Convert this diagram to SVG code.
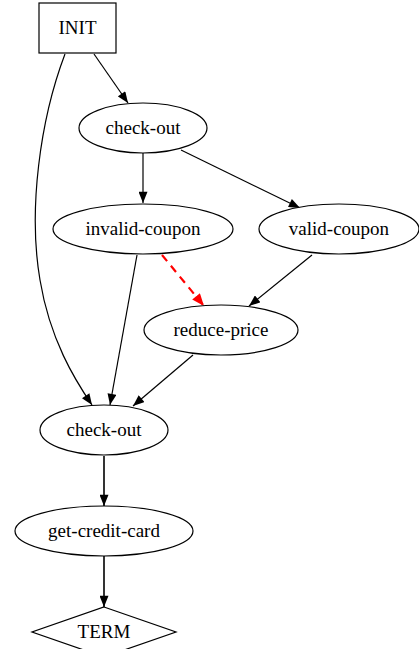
<svg xmlns="http://www.w3.org/2000/svg" width="419" height="649" viewBox="0 0 419 649">
<style>
.n{fill:#fff;stroke:#000;stroke-width:1.2}
.t{font-family:'Liberation Serif','DejaVu Serif','Times New Roman',Times,serif;font-size:19px;text-anchor:middle;fill:#000}
.e{fill:none;stroke:#000;stroke-width:1.2}
.e2{fill:none;stroke:#000;stroke-width:1.6}
.r{fill:none;stroke:#f00;stroke-width:2.2;stroke-dasharray:8,6}
</style>
<defs>
<marker id="a" viewBox="0 0 10 8" refX="10" refY="4" markerWidth="12" markerHeight="9" markerUnits="userSpaceOnUse" orient="auto"><path d="M0,0L10,4L0,8z" fill="#000"/></marker>
<marker id="ar" viewBox="0 0 10 8" refX="10" refY="4" markerWidth="13" markerHeight="10" markerUnits="userSpaceOnUse" orient="auto"><path d="M0,0L10,4L0,8z" fill="#f00"/></marker>
</defs>
<rect width="419" height="649" fill="#fff"/>
<g id="edges">
<path class="e" d="M94,54L128,103" marker-end="url(#a)"/>
<path class="e" d="M65,54C40,120 28,210 40,280C50,340 75,380 92,405" marker-end="url(#a)"/>
<path class="e" d="M143,153L143,203" marker-end="url(#a)"/>
<path class="e" d="M181,150L300,208" marker-end="url(#a)"/>
<path class="r" d="M162,255L204,306" marker-end="url(#ar)"/>
<path class="e" d="M312,255L249,306" marker-end="url(#a)"/>
<path class="e" d="M137,255L110,405" marker-end="url(#a)"/>
<path class="e" d="M193,355L133,406" marker-end="url(#a)"/>
<path class="e2" d="M104,456L104,506" marker-end="url(#a)"/>
<path class="e2" d="M104,556L104,607" marker-end="url(#a)"/>
</g>
<g id="INIT"><rect class="n" x="39" y="3" width="77" height="50"/><text class="t" x="77.5" y="34" font-family="Liberation Serif, serif">INIT</text></g>
<g id="checkout1"><ellipse class="n" cx="143" cy="128" rx="64" ry="25"/><text class="t" x="143" y="134">check-out</text></g>
<g id="invalid-coupon"><ellipse class="n" cx="143" cy="229" rx="90" ry="25"/><text class="t" x="143" y="235">invalid-coupon</text></g>
<g id="valid-coupon"><ellipse class="n" cx="339" cy="229" rx="80" ry="25"/><text class="t" x="339" y="235">valid-coupon</text></g>
<g id="reduce-price"><ellipse class="n" cx="221" cy="330" rx="77" ry="25"/><text class="t" x="221" y="336">reduce-price</text></g>
<g id="checkout2"><ellipse class="n" cx="104" cy="430" rx="64" ry="25"/><text class="t" x="104" y="436">check-out</text></g>
<g id="get-credit-card"><ellipse class="n" cx="104" cy="531" rx="89" ry="25"/><text class="t" x="104" y="537">get-credit-card</text></g>
<g id="TERM"><path class="n" d="M104,607L176,632L104,657L32,632Z"/><text class="t" x="104" y="638">TERM</text></g>
</svg>
